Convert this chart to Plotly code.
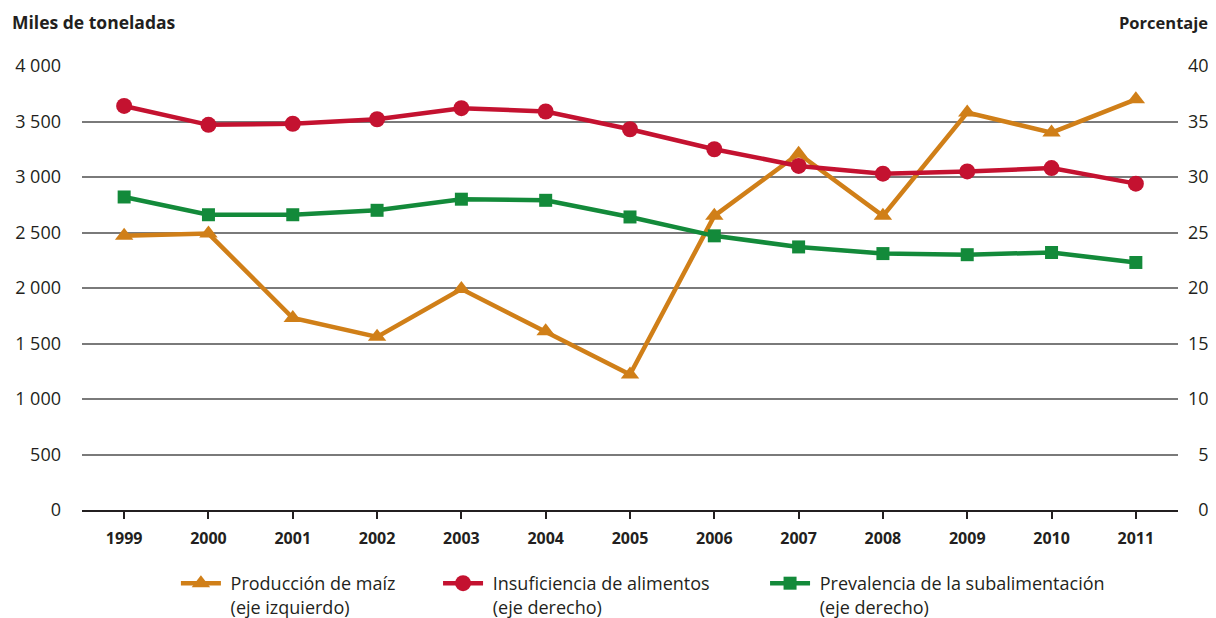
import plotly.graph_objs as go

years = [1999, 2000, 2001, 2002, 2003, 2004, 2005, 2006, 2007, 2008, 2009, 2010, 2011]
maiz = [2470, 2490, 1730, 1560, 1990, 1610, 1220, 2650, 3210, 2650, 3580, 3400, 3700]
insuficiencia = [36.4, 34.7, 34.8, 35.2, 36.2, 35.9, 34.3, 32.5, 31.0, 30.3, 30.5, 30.8, 29.4]
prevalencia = [28.2, 26.6, 26.6, 27.0, 28.0, 27.9, 26.4, 24.7, 23.7, 23.1, 23.0, 23.2, 22.3]

left_ticks = [0, 500, 1000, 1500, 2000, 2500, 3000, 3500, 4000]
left_labels = ['0', '500', '1 000', '1 500', '2 000', '2 500', '3 000', '3 500', '4 000']
right_ticks = [0, 5, 10, 15, 20, 25, 30, 35, 40]
# figure space pads one-digit labels so the right axis reads right-aligned
right_labels = ['\u20070', '\u20075', '10', '15', '20', '25', '30', '35', '40']

ORANGE = '#D07F18'
RED = '#C41230'
GREEN = '#138A3A'
INK = '#231f20'
FONT = 'Open Sans'
NB = '\u00a0'

trace_maiz = go.Scatter(x=years, y=maiz, mode='lines+markers',
                        name=NB + 'Producción de maíz<br>' + NB + '(eje izquierdo)',
                        line=dict(color=ORANGE, width=4.5),
                        marker=dict(symbol='triangle-up', size=16, color=ORANGE),
                        legend='legend')
trace_insuf = go.Scatter(x=years, y=insuficiencia, mode='lines+markers',
                         name=NB + 'Insuficiencia de alimentos<br>' + NB + '(eje derecho)',
                         line=dict(color=RED, width=4.5),
                         marker=dict(symbol='circle', size=16, color=RED),
                         yaxis='y2', legend='legend2')
trace_prev = go.Scatter(x=years, y=prevalencia, mode='lines+markers',
                        name=NB + 'Prevalencia de la subalimentación<br>' + NB + '(eje derecho)',
                        line=dict(color=GREEN, width=4.5),
                        marker=dict(symbol='square', size=13, color=GREEN),
                        yaxis='y2', legend='legend3')

# legends placed in container coords so they don't push the margins
legend_common = dict(orientation='h', xref='container', yref='container',
                     yanchor='top', xanchor='left', y=0.0869,
                     valign='top', bgcolor='rgba(0,0,0,0)',
                     font=dict(family=FONT, size=18, color=INK),
                     itemwidth=40)

# page body has an 8px margin, so the figure is drawn 8px smaller
layout = go.Layout(
    width=1208, height=610,
    margin=dict(l=74, r=38, t=58, b=108, autoexpand=False),
    plot_bgcolor='white', paper_bgcolor='white',
    font=dict(family=FONT, color=INK),
    xaxis=dict(range=[1998.5, 2011.5], tickvals=years, ticktext=[str(y) for y in years],
               showgrid=False, zeroline=False, showline=True, linecolor=INK, linewidth=1.5,
               ticks='outside', ticklen=7, tickwidth=2, tickcolor=INK, ticklabelstandoff=6,
               automargin=False,
               tickfont=dict(family=FONT, size=16, color=INK, weight='bold')),
    yaxis=dict(range=[0, 4000], tickvals=left_ticks, ticktext=left_labels,
               showgrid=True, gridcolor='#7a7a7a', gridwidth=1.5, zeroline=False,
               showline=False, ticks='', ticklabelstandoff=20, automargin=False,
               tickfont=dict(family=FONT, size=18, color=INK)),
    yaxis2=dict(range=[0, 40], tickvals=right_ticks, ticktext=right_labels,
                overlaying='y', side='right', automargin=False,
                showgrid=False, zeroline=False, showline=False, ticks='', ticklabelstandoff=9,
                tickfont=dict(family=FONT, size=18, color=INK)),
    legend=dict(legend_common, x=0.139),
    legend2=dict(legend_common, x=0.356),
    legend3=dict(legend_common, x=0.6267),
    showlegend=True,
    annotations=[
        dict(text='<b>Miles de toneladas</b>', xref='paper', yref='paper',
             x=-0.0657, y=1.099, xanchor='left', yanchor='middle', showarrow=False,
             font=dict(family=FONT, size=17.5, color=INK)),
        dict(text='<b>Porcentaje</b>', xref='paper', yref='paper',
             x=1.0292, y=1.099, xanchor='right', yanchor='middle', showarrow=False,
             font=dict(family=FONT, size=16.5, color=INK)),
    ],
)

fig = go.Figure(data=[trace_maiz, trace_insuf, trace_prev], layout=layout)
fig.write_html('out.html')
